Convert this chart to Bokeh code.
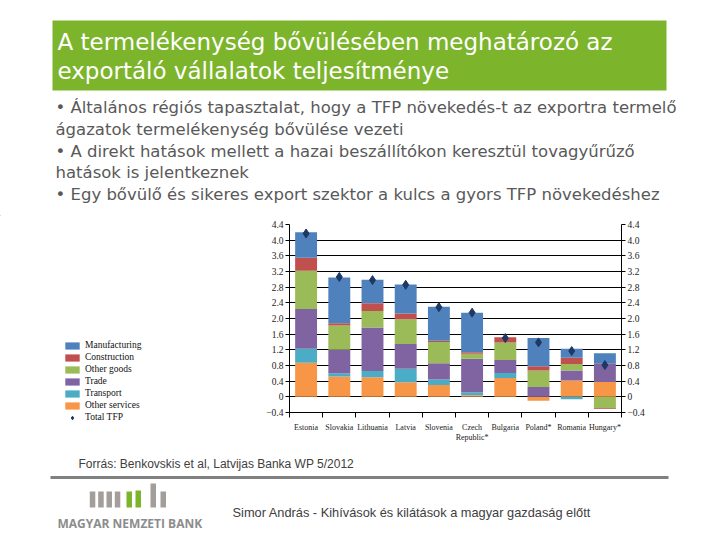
from bokeh.plotting import figure
from bokeh.models import (Range1d, LinearAxis, FixedTicker, CustomJSTickFormatter,
                          Legend, LegendItem)
from bokeh.layouts import column, row
from bokeh.core.properties import value
from bokeh.embed import file_html
from bokeh.resources import INLINE

# ---------------- data ----------------
countries = ["Estonia", "Slovakia", "Lithuania", "Latvia", "Slovenia",
             "Czech\nRepublic*", "Bulgaria", "Poland*", "Romania", "Hungary*"]
other_services = [0.87, 0.52, 0.50, 0.37, 0.30, 0.04, 0.48, -0.10, 0.42, 0.38]
transport      = [0.36, 0.08, 0.16, 0.35, 0.14, 0.08, 0.13, 0.00, -0.06, 0.00]
trade          = [1.01, 0.60, 1.11, 0.63, 0.42, 0.85, 0.33, 0.25, 0.25, 0.48]
other_goods    = [0.98, 0.62, 0.42, 0.63, 0.54, 0.13, 0.45, 0.42, 0.17, -0.29]
construction   = [0.33, 0.06, 0.20, 0.15, 0.03, 0.04, 0.13, 0.11, 0.16, -0.02]
manufacturing  = [0.65, 1.17, 0.60, 0.74, 0.87, 1.01, 0.00, 0.72, 0.23, 0.25]
total_tfp      = [4.17, 3.06, 2.98, 2.86, 2.29, 2.15, 1.50, 1.39, 1.17, 0.81]
y_ticks = [-0.4, 0, 0.4, 0.8, 1.2, 1.6, 2.0, 2.4, 2.8, 3.2, 3.6, 4.0, 4.4]

series = [("Other services", other_services, "#F79646"),
          ("Transport", transport, "#4BACC6"),
          ("Trade", trade, "#8064A2"),
          ("Other goods", other_goods, "#9BBB59"),
          ("Construction", construction, "#C0504D"),
          ("Manufacturing", manufacturing, "#4F81BD")]
legend_order = ["Manufacturing", "Construction", "Other goods", "Trade", "Transport",
                "Other services", "Total TFP"]
tfp_color = "#1F3864"

title_lines = ["A termelékenység bővülésében meghatározó az",
               "exportáló vállalatok teljesítménye"]
bullet_lines = ["• Általános régiós tapasztalat, hogy a TFP növekedés-t az exportra termelő",
                "ágazatok termelékenység bővülése vezeti",
                "• A direkt hatások mellett a hazai beszállítókon keresztül tovagyűrűző",
                "hatások is jelentkeznek",
                "• Egy bővülő és sikeres export szektor a kulcs a gyors TFP növekedéshez"]
source_text = "Forrás: Benkovskis et al, Latvijas Banka WP 5/2012"
footer_text = "Simor András - Kihívások és kilátások a magyar gazdaság előtt"
bank_name = "MAGYAR NEMZETI BANK"

W = 712

def canvas(w, h):
    f = figure(width=w, height=h, x_range=Range1d(0, w), y_range=Range1d(h, 0),
               output_backend="svg", toolbar_location=None,
               x_axis_location=None, y_axis_location=None, min_border=0)
    f.grid.visible = False
    f.outline_line_color = None
    return f

# ---------------- header ----------------
H1 = 215
hd = canvas(W, H1)
hd.quad(left=52, right=666, top=20, bottom=90, fill_color="#7CB42C", line_color=None)
hd.text(x=[57, 57], y=[41, 70], text=title_lines, text_color="white",
        text_font=value("DejaVu Sans"), text_font_size="23px", text_baseline="middle")
hd.text(x=[55] * 5, y=[107, 129, 151, 172, 194], text=bullet_lines, text_color="#595959",
        text_font=value("DejaVu Sans"), text_font_size="16.5px", text_baseline="middle")

# ---------------- chart ----------------
H2 = 230
LW = 255
CW = W - LW
p = figure(width=CW, height=H2, x_range=Range1d(0, 10), y_range=Range1d(-0.4, 4.4),
           output_backend="svg", toolbar_location=None,
           min_border_left=289 - LW, min_border_right=W - 621, min_border_top=9,
           min_border_bottom=26)
p.outline_line_color = None
p.xgrid.visible = False
p.ygrid.ticker = FixedTicker(ticks=y_ticks)
p.ygrid.grid_line_color = "black"
p.ygrid.grid_line_width = 1

xs = [i + 0.5 for i in range(len(countries))]
pos = [0.0] * len(countries)
neg = [0.0] * len(countries)
for name, vals, col in series:
    bottoms, tops = [], []
    for i, v in enumerate(vals):
        if v >= 0:
            bottoms.append(pos[i]); tops.append(pos[i] + v); pos[i] += v
        else:
            tops.append(neg[i]); bottoms.append(neg[i] + v); neg[i] += v
    p.vbar(x=xs, width=0.66, bottom=bottoms, top=tops, fill_color=col, line_color=None)
p.scatter(x=xs, y=total_tfp, marker="diamond", size=9,
          fill_color=tfp_color, line_color=tfp_color)

yfmt = CustomJSTickFormatter(code="""
if (Math.abs(tick) < 1e-9) return "0";
return (tick < 0 ? "\u2212" : "") + Math.abs(tick).toFixed(1);
""")
ry = LinearAxis()
p.add_layout(ry, "right")
for ax in [p.yaxis[0], ry]:
    ax.ticker = FixedTicker(ticks=y_ticks)
    ax.formatter = yfmt
    ax.major_tick_out = 4
    ax.major_tick_in = 0
    ax.minor_tick_out = 0
    ax.minor_tick_in = 0
    ax.axis_line_color = "black"
    ax.major_tick_line_color = "black"
    ax.major_label_text_font = "Liberation Serif"
    ax.major_label_text_font_size = "9.5px"
    ax.major_label_text_color = "#222222"
    ax.major_label_standoff = 2

xa = p.xaxis[0]
xa.ticker = FixedTicker(ticks=xs, minor_ticks=list(range(0, 11)))
xa.formatter = CustomJSTickFormatter(args=dict(labels=countries),
                                     code="return labels[Math.floor(tick)];")
xa.major_tick_out = 0
xa.major_tick_in = 0
xa.minor_tick_out = 5
xa.minor_tick_in = 0
xa.minor_tick_line_color = "black"
xa.axis_line_color = "black"
xa.major_label_text_font = "Liberation Serif"
xa.major_label_text_font_size = "8px"
xa.major_label_text_color = "#222222"
xa.major_label_standoff = 5

# legend panel (left of the chart); proxies (outside the view) carry the colours
lc = canvas(LW, H2)
colors = {n: c for n, _, c in series}
items = []
for n in legend_order:
    if n == "Total TFP":
        r = lc.scatter(x=[-999], y=[-999], marker="diamond", size=6,
                       fill_color=tfp_color, line_color=tfp_color)
    else:
        r = lc.vbar(x=[-999], top=[-999], bottom=[-998], width=1,
                    fill_color=colors[n], line_color=None)
    items.append(LegendItem(label=n, renderers=[r]))
legend = Legend(items=items, location=(63, 22), padding=0, margin=0, spacing=0,
                glyph_width=18, glyph_height=9, label_height=12, label_standoff=4,
                label_text_font="Liberation Serif", label_text_font_size="9.5px",
                label_text_color="#111111",
                border_line_color=None, background_fill_alpha=0)
lc.add_layout(legend, "center")

# ---------------- footer ----------------
H3 = 90
ft = canvas(W, H3)
ft.text(x=[78], y=[18], text=[source_text], text_color="#404040",
        text_font=value("Liberation Sans"), text_font_size="12px", text_baseline="middle")
ft.segment(x0=[50], y0=[32], x1=[668], y1=[32], line_color="#808080", line_width=3)
logo_x = [89.3, 97.7, 106, 114.3, 126, 135, 150, 160]
logo_top = [46, 46, 46, 46, 46, 45, 38, 46]
logo_col = ["#A39E99"] * 4 + ["#7CB42C"] * 2 + ["#A39E99"] * 2
ft.quad(left=logo_x, right=[v + 5.5 for v in logo_x], top=logo_top, bottom=[62] * 8,
        fill_color=logo_col, line_color=None)
ft.text(x=[57], y=[78], text=[bank_name], text_color="#8C8C8C",
        text_font=value("Open Sans"), text_font_size="12px", text_font_style="bold",
        text_baseline="middle")
ft.text(x=[232], y=[67], text=[footer_text], text_color="#404040",
        text_font=value("Liberation Sans"), text_font_size="12.8px", text_baseline="middle")

layout = column(hd, row(column(lc), p, spacing=0), ft, spacing=0)
open("out.html", "w").write(file_html(layout, INLINE))
